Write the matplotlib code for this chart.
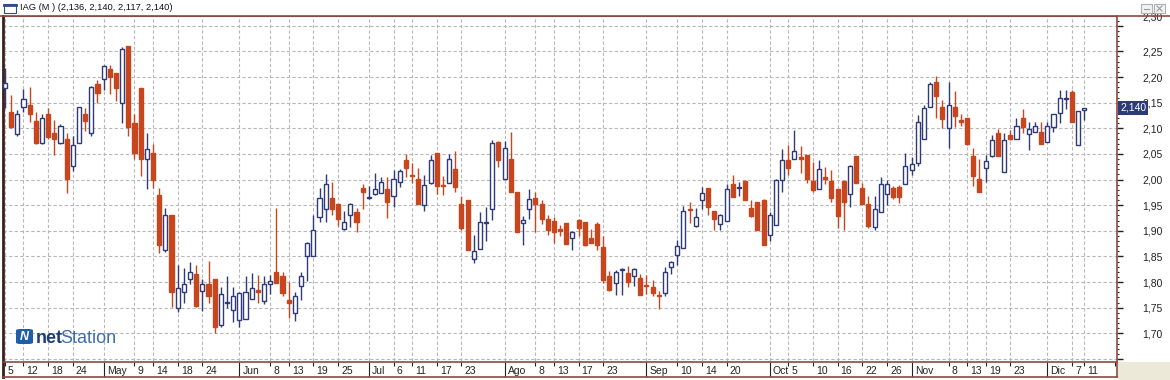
import numpy as np
import matplotlib.pyplot as plt
from matplotlib.patches import Rectangle, FancyBboxPatch
from matplotlib.lines import Line2D
from matplotlib.ticker import MultipleLocator, FuncFormatter
import matplotlib.transforms as mtransforms

# Daily OHLC, IAG, 5 Apr -> 11 Dec
opens = [2.178, 2.131, 2.088, 2.141, 2.145, 2.114, 2.072, 2.128, 2.091, 2.071,
         2.080, 2.027, 2.071, 2.127, 2.090, 2.186, 2.197, 2.215, 2.207, 2.150,
         2.260, 2.111, 2.178, 2.040, 2.051, 1.970, 1.862, 1.931, 1.750, 1.781,
         1.806, 1.815, 1.783, 1.796, 1.806, 1.716, 1.759, 1.746, 1.726, 1.728,
         1.767, 1.784, 1.763, 1.796, 1.820, 1.811, 1.765, 1.739, 1.793, 1.851,
         1.851, 1.926, 1.942, 1.963, 1.952, 1.903, 1.931, 1.936, 1.983, 1.963,
         1.971, 1.973, 1.982, 1.967, 1.996, 2.038, 2.009, 2.001, 1.950, 1.993,
         2.051, 1.989, 1.993, 2.020, 1.952, 1.960, 1.845, 1.865, 1.916, 1.943,
         2.074, 2.001, 2.041, 1.975, 1.915, 1.943, 1.963, 1.952, 1.923, 1.919,
         1.903, 1.915, 1.885, 1.921, 1.917, 1.885, 1.913, 1.869, 1.811, 1.798,
         1.823, 1.817, 1.811, 1.807, 1.794, 1.791, 1.774, 1.778, 1.830, 1.853,
         1.866, 1.943, 1.910, 1.960, 1.983, 1.939, 1.913, 1.919, 1.991, 1.983,
         1.998, 1.944, 1.956, 1.960, 1.892, 1.911, 1.999, 2.038, 2.040, 2.043,
         2.047, 1.997, 1.982, 2.005, 1.997, 1.982, 1.997, 1.971, 2.046, 1.984,
         1.952, 1.908, 1.936, 1.971, 1.983, 1.986, 1.991, 2.019, 2.032, 2.080,
         2.142, 2.190, 2.141, 2.100, 2.141, 2.116, 2.121, 2.046, 2.001, 2.023,
         2.045, 2.090, 2.015, 2.087, 2.080, 2.121, 2.088, 2.093, 2.093, 2.074,
         2.102, 2.129, 2.158, 2.170, 2.067, 2.136]
highs = [2.217, 2.165, 2.136, 2.177, 2.181, 2.131, 2.127, 2.139, 2.116, 2.108,
         2.090, 2.084, 2.141, 2.139, 2.183, 2.194, 2.223, 2.223, 2.207, 2.259,
         2.260, 2.128, 2.178, 2.090, 2.069, 1.983, 1.944, 1.931, 1.833, 1.827,
         1.839, 1.833, 1.806, 1.841, 1.806, 1.791, 1.811, 1.791, 1.781, 1.811,
         1.817, 1.814, 1.811, 1.813, 1.944, 1.820, 1.801, 1.781, 1.819, 1.879,
         1.931, 1.983, 2.010, 1.996, 1.952, 1.939, 1.954, 1.944, 1.991, 1.988,
         2.012, 2.004, 2.004, 2.019, 2.021, 2.049, 2.032, 2.022, 2.009, 2.047,
         2.051, 2.006, 2.049, 2.056, 1.967, 1.960, 1.892, 1.937, 1.947, 2.077,
         2.075, 2.075, 2.093, 1.975, 1.928, 1.982, 1.976, 1.960, 1.931, 1.926,
         1.911, 1.915, 1.900, 1.923, 1.917, 1.904, 1.917, 1.889, 1.822, 1.824,
         1.827, 1.832, 1.827, 1.815, 1.814, 1.804, 1.783, 1.830, 1.841, 1.882,
         1.949, 1.957, 1.944, 1.986, 1.983, 1.939, 1.932, 1.991, 2.009, 1.996,
         1.999, 1.960, 1.956, 1.962, 1.937, 2.002, 2.060, 2.067, 2.097, 2.065,
         2.048, 2.035, 2.038, 2.025, 2.019, 1.982, 1.997, 2.028, 2.046, 1.993,
         1.967, 1.967, 2.004, 1.999, 1.988, 1.989, 2.051, 2.043, 2.125, 2.145,
         2.191, 2.202, 2.155, 2.191, 2.173, 2.127, 2.121, 2.061, 2.041, 2.047,
         2.087, 2.099, 2.090, 2.097, 2.121, 2.137, 2.113, 2.113, 2.112, 2.112,
         2.127, 2.175, 2.175, 2.175, 2.134, 2.140]
lows = [2.139, 2.100, 2.084, 2.132, 2.113, 2.069, 2.070, 2.080, 2.048, 2.069,
        1.973, 2.017, 2.071, 2.095, 2.085, 2.150, 2.175, 2.166, 2.153, 2.111,
        2.084, 2.040, 2.006, 1.982, 1.983, 1.856, 1.858, 1.752, 1.742, 1.760,
        1.796, 1.752, 1.744, 1.759, 1.700, 1.713, 1.749, 1.723, 1.712, 1.728,
        1.767, 1.759, 1.757, 1.776, 1.798, 1.772, 1.729, 1.724, 1.765, 1.802,
        1.851, 1.918, 1.917, 1.931, 1.910, 1.902, 1.908, 1.897, 1.942, 1.962,
        1.970, 1.973, 1.924, 1.947, 1.986, 2.004, 1.993, 1.952, 1.939, 1.991,
        1.971, 1.970, 1.993, 1.976, 1.902, 1.863, 1.837, 1.865, 1.880, 1.921,
        2.025, 2.001, 1.976, 1.898, 1.873, 1.923, 1.898, 1.913, 1.891, 1.876,
        1.889, 1.874, 1.863, 1.889, 1.871, 1.876, 1.863, 1.798, 1.783, 1.775,
        1.775, 1.791, 1.793, 1.775, 1.776, 1.772, 1.748, 1.772, 1.815, 1.833,
        1.866, 1.915, 1.908, 1.942, 1.930, 1.902, 1.902, 1.919, 1.965, 1.967,
        1.961, 1.926, 1.902, 1.872, 1.880, 1.911, 1.976, 2.008, 2.040, 2.012,
        1.993, 1.975, 1.982, 1.991, 1.957, 1.905, 1.902, 1.947, 1.993, 1.952,
        1.905, 1.902, 1.936, 1.950, 1.962, 1.954, 1.991, 2.008, 2.027, 2.080,
        2.142, 2.121, 2.101, 2.062, 2.103, 2.105, 2.067, 1.988, 1.975, 1.996,
        2.043, 2.045, 2.015, 2.077, 2.079, 2.090, 2.058, 2.092, 2.069, 2.074,
        2.092, 2.110, 2.138, 2.112, 2.067, 2.117]
closes = [2.188, 2.103, 2.127, 2.158, 2.127, 2.072, 2.121, 2.082, 2.080, 2.104,
          2.001, 2.067, 2.141, 2.114, 2.180, 2.169, 2.222, 2.200, 2.179, 2.254,
          2.103, 2.051, 2.041, 2.059, 2.000, 1.872, 1.931, 1.781, 1.789, 1.796,
          1.820, 1.754, 1.796, 1.772, 1.713, 1.776, 1.761, 1.772, 1.778, 1.781,
          1.789, 1.781, 1.796, 1.803, 1.798, 1.778, 1.760, 1.772, 1.811, 1.876,
          1.902, 1.963, 1.991, 1.942, 1.923, 1.918, 1.952, 1.918, 1.975, 1.966,
          1.982, 1.995, 1.957, 2.002, 2.017, 2.022, 2.006, 1.952, 1.989, 2.038,
          1.988, 1.987, 2.041, 1.986, 1.905, 1.863, 1.861, 1.917, 1.917, 2.071,
          2.038, 2.062, 1.976, 1.898, 1.921, 1.962, 1.952, 1.923, 1.902, 1.898,
          1.900, 1.874, 1.897, 1.905, 1.872, 1.876, 1.872, 1.804, 1.785, 1.820,
          1.826, 1.801, 1.826, 1.775, 1.792, 1.778, 1.772, 1.820, 1.840, 1.871,
          1.939, 1.940, 1.926, 1.973, 1.947, 1.923, 1.931, 1.982, 1.965, 1.986,
          1.961, 1.928, 1.902, 1.872, 1.930, 1.999, 2.038, 2.022, 2.056, 2.040,
          2.001, 1.980, 2.021, 2.002, 1.963, 1.928, 1.957, 2.027, 1.993, 1.952,
          1.910, 1.942, 1.991, 1.991, 1.965, 1.965, 2.027, 2.030, 2.112, 2.139,
          2.186, 2.162, 2.118, 2.145, 2.124, 2.113, 2.069, 2.006, 1.975, 2.036,
          2.077, 2.045, 2.077, 2.079, 2.104, 2.103, 2.099, 2.104, 2.069, 2.104,
          2.127, 2.160, 2.160, 2.112, 2.134, 2.140]

# x axis labels (trading-day index)
day_pos = [0, 3, 7, 11, 21, 24, 28, 32, 43, 46, 50, 54, 63, 66, 70, 74,
           86, 89, 93, 97, 109, 113, 117, 127, 131, 135, 139, 143,
           153, 156, 159, 163, 173, 175]
day_labels = ['5', '12', '18', '24', '9', '14', '18', '24', '8', '13', '19', '25',
              '6', '11', '17', '23', '8', '13', '17', '23', '10', '14', '20',
              '5', '10', '16', '22', '26', '8', '13', '19', '23', '7', '11']
month_pos = [16, 38, 59, 81, 104, 124, 147, 169]
month_labels = ['May', 'Jun', 'Jul', 'Ago', 'Sep', 'Oct', 'Nov', 'Dic']

title = "IAG (M ) (2,136, 2,140, 2,117, 2,140)"

up_color = '#2E3A7A'
down_color = '#C8461E'
frame_color = '#8A4A40'
grid_color = '#B8B8B8'
text_color = '#222222'
font = 'Liberation Sans'

W, H = 1170, 380
fig = plt.figure(figsize=(W / 100, H / 100), dpi=100)
fig.patch.set_facecolor('white')
PT = 72 / 100  # points per pixel

def fx(px):
    return px / W

def fy(py):
    return 1 - py / H

def comma(v, dec=2):
    return f"{v:.{dec}f}".replace('.', ',')

# main price panel
x0, x1, y0, y1 = 3, 1117, 16, 361
ax = fig.add_axes([fx(x0), fy(y1), fx(x1 - x0), (y1 - y0) / H])
ax.set_facecolor('white')

o = np.array(opens)
h = np.array(highs)
l = np.array(lows)
c = np.array(closes)
idx = np.arange(len(o))
up = c >= o
cols = np.where(up, up_color, down_color)

ax.vlines(idx, l, h, colors=cols, linewidth=1.0, zorder=2)
body_bottom = np.minimum(o, c)
body_height = np.maximum(np.abs(c - o), 0.0015)
ax.bar(idx, body_height, bottom=body_bottom, width=0.66,
       color=np.where(up, 'white', down_color), edgecolor=cols,
       linewidth=1.0, zorder=3)

ax.set_xlim(-0.32, 180.3)
ax.set_ylim(1.646, 2.319)

all_pos = sorted(day_pos + month_pos)
ax.set_xticks(all_pos)
ax.tick_params(axis='x', length=0, labelbottom=False)
ax.yaxis.tick_right()
ax.yaxis.set_major_locator(MultipleLocator(0.05))
ax.yaxis.set_minor_locator(MultipleLocator(0.01))
# 2,30 is drawn by hand (sits under the top edge), 1,65 is not labelled
ax.yaxis.set_major_formatter(FuncFormatter(
    lambda v, p: comma(v) if 1.69 < v < 2.29 else ''))
ax.tick_params(axis='y', which='major', length=6 * PT, width=1, color=text_color,
               pad=19 * PT, labelsize=7.5, labelcolor=text_color)
ax.tick_params(axis='y', which='minor', length=2.5 * PT, width=0.8, color=text_color)
for t in ax.get_yticklabels():
    t.set_fontfamily(font)
ax.grid(True, which='major', color=grid_color, linestyle=(0, (3, 2)), linewidth=0.8)
ax.set_axisbelow(True)

top_trans = mtransforms.blended_transform_factory(ax.transAxes, ax.transData)
ax.text(1.0 + 25 / (x1 - x0), 2.30, comma(2.30),
        transform=top_trans + mtransforms.ScaledTranslation(0, 8 / 100, fig.dpi_scale_trans),
        ha='left', va='center', fontsize=7.5, family=font, color=text_color,
        clip_on=False)

ax.spines['left'].set_color('#3A2018')
ax.spines['left'].set_linewidth(2)
ax.spines['top'].set_color(frame_color)
ax.spines['right'].set_color(frame_color)
ax.spines['right'].set_linewidth(1.2)
ax.spines['bottom'].set_visible(False)

# last price marker (covers the 2,15 label, as in the original terminal)
ax.text(1.0 + 3 / (x1 - x0), c[-1], comma(c[-1], 3), transform=top_trans,
        ha='left', va='center', color='white', fontsize=7.5, family=font,
        bbox=dict(boxstyle='square,pad=0.2', fc='#2E3A78', ec='none'),
        zorder=10, clip_on=False)

# date strip
axd = fig.add_axes([fx(x0), fy(377), fx(x1 - x0), 15 / H])
axd.set_xlim(ax.get_xlim())
axd.set_ylim(0, 1)
axd.set_xticks([])
axd.set_yticks([])
for s in axd.spines.values():
    s.set_color(frame_color)
    s.set_linewidth(1.2)
axd.spines['left'].set_color('#3A2018')
axd.spines['left'].set_linewidth(2)
axd.vlines(day_pos, 0.72, 1, color=text_color, linewidth=0.8)
axd.vlines(month_pos, 0, 1, color=text_color, linewidth=0.8)
for p, lab in zip(day_pos + month_pos, day_labels + month_labels):
    axd.text(p + 0.5, 0.42, lab, ha='left', va='center', fontsize=7.5,
             family=font, color=text_color)
axd.vlines([179.9], 0.72, 1, color=text_color, linewidth=0.8)

# title bar
fig.add_artist(Line2D([0, 1], [fy(16), fy(16)], color=frame_color, linewidth=1.2))
fig.add_artist(Rectangle((fx(4), fy(13)), fx(12), 9 / H, fc='white',
                         ec='#2E4A8A', lw=0.8))
fig.add_artist(Line2D([fx(4), fx(16)], [fy(5), fy(5)], color='#2E4A8A', linewidth=2))
fig.text(fx(20), fy(8), title, ha='left', va='center', fontsize=6.7,
         family=font, color='#111111')
for bx in (1141, 1154):
    fig.add_artist(Rectangle((fx(bx), fy(13)), fx(11), 9 / H, fc='#F2F2F2',
                             ec='#B0B0B0', lw=0.8))
fig.add_artist(Line2D([fx(1144), fx(1149)], [fy(9), fy(9)], color='#999999', linewidth=0.8))
fig.add_artist(Line2D([fx(1157), fx(1162)], [fy(11), fy(6)], color='#999999', linewidth=0.8))
fig.add_artist(Line2D([fx(1157), fx(1162)], [fy(6), fy(11)], color='#999999', linewidth=0.8))

# bottom right corner
fig.add_artist(Rectangle((fx(1118), 0), fx(52), 18 / H, fc='#ECE9D8', ec='none'))

# netStation watermark
fig.add_artist(FancyBboxPatch((fx(16), fy(344)), fx(17), 15 / H,
                              boxstyle='round,pad=0,rounding_size=0.004',
                              fc='#1F5DA8', ec='none'))
fig.text(fx(24.5), fy(336.5), 'N', ha='center', va='center', fontsize=9,
         fontweight='bold', style='italic', family=font, color='white')
t_net = fig.text(fx(36), fy(343), 'net', ha='left', va='baseline', fontsize=13,
                 fontweight='bold', family=font, color='#1D3D78')
renderer = fig.canvas.get_renderer()
bb = t_net.get_window_extent(renderer)
fig.text(bb.x1 / W - fx(2.5), fy(343), 'Station', ha='left', va='baseline',
         fontsize=13, family=font, color='#3F6DAE')

fig.savefig('out.png', dpi=100)
